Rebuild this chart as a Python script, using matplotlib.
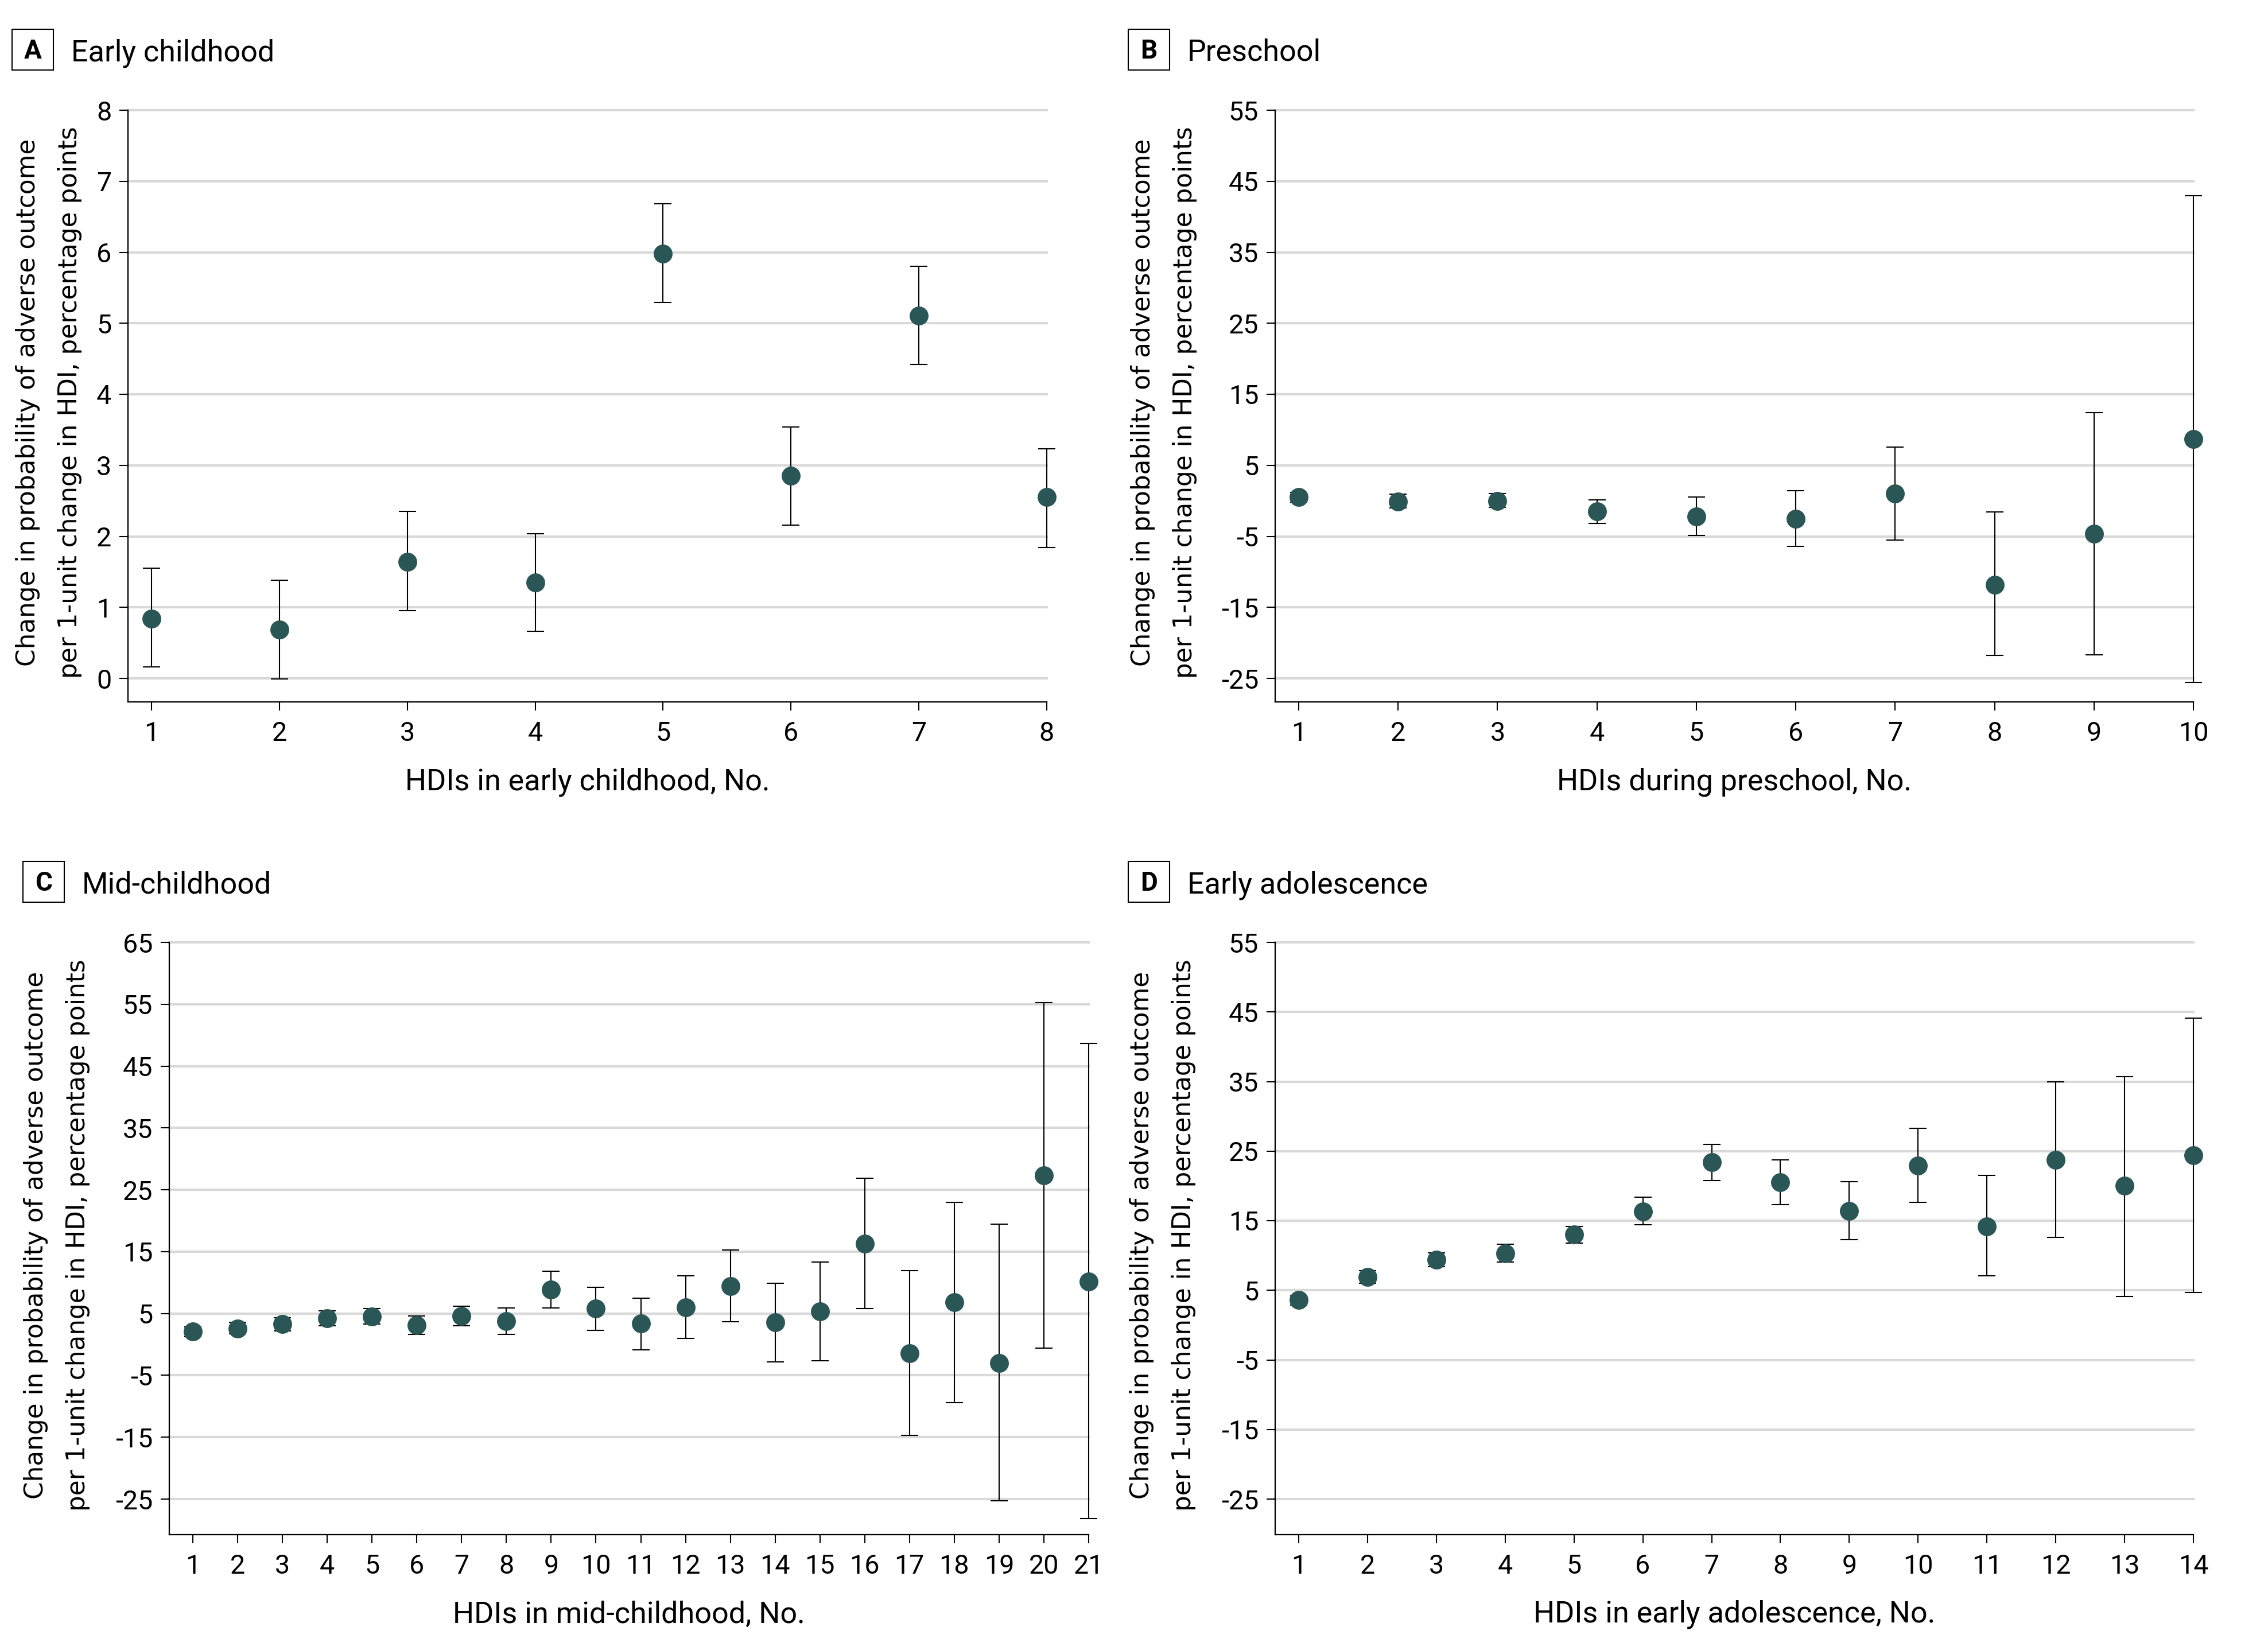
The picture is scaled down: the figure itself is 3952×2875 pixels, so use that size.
import matplotlib
matplotlib.use("Agg")
import matplotlib.pyplot as plt
from matplotlib.patches import Rectangle

plt.rcParams["axes.unicode_minus"] = False

W, H, DPI = 3953, 2875, 300

MARKER_COLOR = "#2a5655"
GRID_COLOR = "#d9d9d9"
TICK_FONT = ["Roboto", "DejaVu Sans"]
YLAB_FONT = ["DejaVu Sans"]

YLABEL = "Change in probability of adverse outcome\nper 1-unit change in HDI, percentage points"

# Panel A: early childhood
a_est = [0.84, 0.69, 1.64, 1.35, 5.98, 2.85, 5.11, 2.55]
a_lo = [0.16, -0.01, 0.95, 0.66, 5.29, 2.16, 4.42, 1.84]
a_hi = [1.55, 1.38, 2.35, 2.04, 6.68, 3.54, 5.80, 3.23]

# Panel B: preschool
b_est = [0.5, -0.1, 0.0, -1.5, -2.2, -2.5, 1.0, -11.8, -4.6, 8.7]
b_lo = [-0.2, -1.0, -0.9, -3.2, -4.9, -6.4, -5.5, -21.8, -21.7, -25.6]
b_hi = [1.2, 0.9, 1.0, 0.1, 0.5, 1.4, 7.6, -1.6, 12.4, 43.0]

# Panel C: mid-childhood
c_est = [2.1, 2.6, 3.3, 4.2, 4.5, 3.1, 4.6, 3.8, 8.9, 5.8, 3.4, 6.0, 9.4, 3.6,
         5.3, 16.3, -1.4, 6.8, -3.0, 27.3, 10.2]
c_lo = [1.3, 1.7, 2.2, 3.0, 3.3, 1.6, 3.0, 1.6, 5.9, 2.3, -0.9, 1.0, 3.7, -2.8,
        -2.6, 5.8, -14.7, -9.4, -25.3, -0.6, -28.2]
c_hi = [2.8, 3.6, 4.3, 5.4, 5.8, 4.6, 6.2, 5.9, 11.8, 9.2, 7.5, 11.1, 15.3, 9.9,
        13.3, 26.9, 11.9, 23.0, 19.4, 55.3, 48.7]

# Panel D: early adolescence
d_est = [3.6, 6.95, 9.4, 10.3, 13.0, 16.3, 23.4, 20.5, 16.4, 22.9, 14.2, 23.75, 20.0, 24.4]
d_lo = [2.9, 6.0, 8.4, 9.1, 11.8, 14.4, 20.8, 17.3, 12.3, 17.6, 7.1, 12.6, 4.1, 4.7]
d_hi = [4.2, 7.8, 10.35, 11.6, 14.2, 18.4, 26.0, 23.75, 20.6, 28.3, 21.5, 35.0, 35.7, 44.1]

panels = [
    # letter, title, xlabel, est, lo, hi, y range, y step, box (px), axes (px),
    # gap below lowest gridline (px), y-title centre x (px)
    ("A", "Early childhood", "HDIs in early childhood, No.", a_est, a_lo, a_hi,
     (0, 8), 1, (21, 51), (223, 1824, 192, 1223), 41, 85),
    ("B", "Preschool", "HDIs during preschool, No.", b_est, b_lo, b_hi,
     (-25, 55), 10, (1966, 51), (2222, 3822, 192, 1223), 41, 2028),
    ("C", "Mid-childhood", "HDIs in mid-childhood, No.", c_est, c_lo, c_hi,
     (-25, 65), 10, (40, 1501), (295, 1897, 1642, 2674), 62, 99),
    ("D", "Early adolescence", "HDIs in early adolescence, No.", d_est, d_lo, d_hi,
     (-25, 55), 10, (1966, 1501), (2222, 3822, 1642, 2674), 62, 2026),
]


def px(x, y):
    return x / W, 1 - y / H


fig = plt.figure(figsize=(W / DPI, H / DPI), dpi=DPI)

for (letter, title, xlabel, est, lo, hi, (ymin, ymax), ystep, box, axpx,
     bgap, ylab_x) in panels:
    x0, x1, ytop, ybot = axpx
    ax = fig.add_axes([x0 / W, 1 - ybot / H, (x1 - x0) / W, (ybot - ytop) / H])

    n = len(est)
    xs = list(range(1, n + 1))
    lowest_grid_px = ybot - bgap
    per_unit = (lowest_grid_px - ytop) / (ymax - ymin)
    x_spacing = (x1 - x0 - 41) / (n - 1)
    ax.set_xlim(1 - 41 / x_spacing, n)
    ax.set_ylim(ymin - bgap / per_unit, ymax)

    yerr = [[e - l for e, l in zip(est, lo)], [h - e for e, h in zip(est, hi)]]
    _, caps, bars = ax.errorbar(xs, est, yerr=yerr, fmt="none", ecolor="black",
                                elinewidth=0.5, capsize=3.7, capthick=0.5,
                                zorder=2)
    for art in list(caps) + list(bars):
        art.set_clip_on(False)
    ax.plot(xs, est, "o", color=MARKER_COLOR, markersize=7.9, markeredgewidth=0,
            zorder=3, clip_on=False)

    ax.set_xticks(xs)
    ax.set_yticks(range(ymin, ymax + 1, ystep))
    ax.yaxis.grid(True, color=GRID_COLOR, linewidth=1.0)
    ax.set_axisbelow(True)
    for gl in ax.get_ygridlines():
        gl.set_clip_on(False)

    for side in ("top", "right"):
        ax.spines[side].set_visible(False)
    for side in ("left", "bottom"):
        ax.spines[side].set_linewidth(0.55)
    ax.tick_params(axis="both", direction="out", length=3.7, width=0.5,
                   labelsize=11.2)
    ax.tick_params(axis="x", pad=4.2)
    ax.tick_params(axis="y", pad=3.2)
    for lab in ax.get_xticklabels() + ax.get_yticklabels():
        lab.set_fontfamily(TICK_FONT)

    # x axis title
    fig.text(*px((x0 + x1) / 2, ybot + 153), xlabel, ha="center", va="baseline",
             fontsize=12.5, family=TICK_FONT)

    # y axis title, two centred lines
    fig.text(*px(ylab_x, (ytop + ybot) / 2 - 6), YLABEL, rotation=90,
             ha="center", va="center", multialignment="center",
             fontsize=10.5, family=YLAB_FONT, linespacing=1.9)

    # boxed panel letter and panel title
    bx, by = box
    fig.patches.append(Rectangle(px(bx, by + 71), 72 / W, 71 / H,
                                 transform=fig.transFigure, fill=False,
                                 edgecolor="black", linewidth=0.5))
    fig.text(*px(bx + 36, by + 51), letter, ha="center", va="baseline",
             fontsize=11, fontweight="bold", family=TICK_FONT)
    fig.text(*px(bx + 103, by + 55), title, ha="left", va="baseline",
             fontsize=12.5, family=TICK_FONT)

fig.savefig("out.png", dpi=DPI)
